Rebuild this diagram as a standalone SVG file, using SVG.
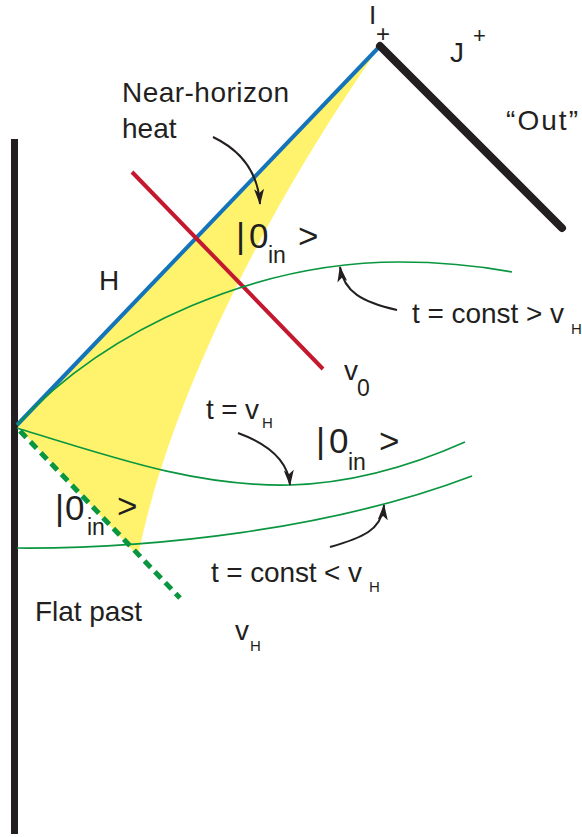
<svg xmlns="http://www.w3.org/2000/svg" width="582" height="837" viewBox="0 0 582 837">
<style>
text{font-family:"Liberation Sans","Open Sans",sans-serif;fill:#231f20}
.lbl{font-size:28px}
.big{font-size:35px}
.sub{font-size:23px}
.hs{font-size:15px}
.green{fill:none;stroke:#0a9640;stroke-width:1.7}
.arr{fill:none;stroke:#231f20;stroke-width:2;marker-end:url(#ah)}
</style>
<defs>
<marker id="ah" viewBox="0 0 16 10" refX="15" refY="5" markerWidth="16" markerHeight="10" orient="auto" markerUnits="userSpaceOnUse">
<path d="M0,0 L16,5 L0,10 L4,5 Z" fill="#231f20"/>
</marker>
</defs>
<g id="yellow-region">
<path d="M17,426 L381,45 C320,130 180,350 138,556 Z" fill="#fff36d"/>
</g>
<g id="wall">
<rect x="11" y="139" width="7" height="695" fill="#231f20"/>
</g>
<g id="connectors">
<line id="horizon" x1="17" y1="425" x2="380" y2="46" stroke="#1374bb" stroke-width="4"/>
<line id="scri" x1="380" y1="46" x2="562" y2="228" stroke="#231f20" stroke-width="8" stroke-linecap="round"/>
<line id="v0-line" x1="132" y1="172" x2="323" y2="369" stroke="#c4182e" stroke-width="4"/>
<line id="flat-past-line" x1="20" y1="431" x2="180" y2="598" stroke="#0a9640" stroke-width="5" stroke-dasharray="9,6"/>
<path id="t-gt" class="green" d="M17,425 C110,325 260,262 400,262 C450,262 485,267 512,272"/>
<path id="t-eq" class="green" d="M17,428 C120,460 200,487 290,485 C360,483 420,462 465,442"/>
<path id="t-lt" class="green" d="M17,548 C150,549 330,530 472,476"/>
<path class="arr" d="M213,137 C240,150 258,172 260,204"/>
<path class="arr" d="M397,310 C362,302 344,292 340,267"/>
<path class="arr" d="M238,433 C268,444 288,460 290,485"/>
<path class="arr" d="M330,547 C362,538 382,530 384,505"/>
</g>
<g id="labels">
<text class="lbl" x="369" y="24" style="font-size:26px">I</text>
<text class="lbl" x="376" y="42" style="font-size:24px">+</text>
<text class="lbl" x="450" y="62">J</text>
<text class="lbl" x="473" y="43" style="font-size:22px">+</text>
<text class="lbl" x="506" y="130" textLength="72">“Out”</text>
<text class="lbl" x="122" y="102" textLength="167">Near-horizon</text>
<text class="lbl" x="122" y="138">heat</text>
<text class="lbl" x="99" y="290">H</text>
<text><tspan class="big" x="236" y="248">|</tspan><tspan class="big" x="249" y="248">0</tspan><tspan class="sub" x="268" y="263">in</tspan><tspan class="big" x="298" y="248">&gt;</tspan></text>
<text><tspan class="lbl" x="412" y="323" textLength="152">t = const &gt; v</tspan><tspan class="hs" x="571" y="334">H</tspan></text>
<text><tspan class="lbl" x="344" y="380">v</tspan><tspan class="sub" x="357" y="396">0</tspan></text>
<text><tspan class="lbl" x="206" y="419" textLength="53">t = v</tspan><tspan class="hs" x="262" y="428">H</tspan></text>
<text><tspan class="big" x="316" y="453">|</tspan><tspan class="big" x="329" y="453">0</tspan><tspan class="sub" x="348" y="470">in</tspan><tspan class="big" x="379" y="453">&gt;</tspan></text>
<text><tspan class="big" x="55" y="520">|</tspan><tspan class="big" x="65" y="520">0</tspan><tspan class="sub" x="87" y="535">in</tspan><tspan class="big" x="117" y="518">&gt;</tspan></text>
<text><tspan class="lbl" x="211" y="582" textLength="151">t = const &lt; v</tspan><tspan class="hs" x="369" y="592">H</tspan></text>
<text class="lbl" x="35" y="621" textLength="107">Flat past</text>
<text><tspan class="lbl" x="235" y="640">v</tspan><tspan class="hs" x="250" y="651">H</tspan></text>
</g>
</svg>
